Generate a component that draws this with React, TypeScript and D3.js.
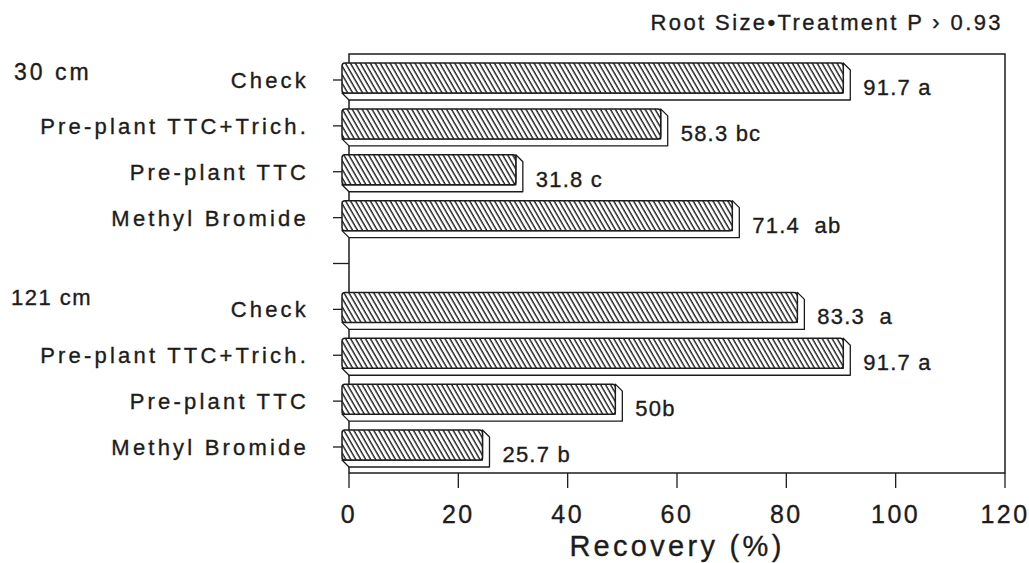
import React from 'react';
import * as d3 from 'd3';

// data
const treatments = ['Check', 'Pre-plant TTC+Trich.', 'Pre-plant TTC', 'Methyl Bromide'];
const groups = ['30 cm', '121 cm'];
const recovery30 = [91.7, 58.3, 31.8, 71.4];
const recovery121 = [83.3, 91.7, 50, 25.7];
const labels30 = ['91.7 a', '58.3 bc', '31.8 c', '71.4  ab'];
const labels121 = ['83.3  a', '91.7 a', '50b', '25.7 b'];
const xTicks = [0, 20, 40, 60, 80, 100, 120];

const W = 1029;
const H = 563;
const FONT = '"Liberation Sans", Arial, Helvetica, sans-serif';
const INK = '#1c1c1c';

// rows: 4 treatments, a blank spacer, 4 treatments
const rows = [
  ...treatments.map((t, i) => ({ key: `a${i}`, name: t, value: recovery30[i], label: labels30[i] })),
  { key: 'gap', name: '', value: null as number | null, label: '' },
  ...treatments.map((t, i) => ({ key: `b${i}`, name: t, value: recovery121[i], label: labels121[i] })),
];

const txt = { fontFamily: FONT, fill: INK, stroke: INK, strokeWidth: 0.35 };

const App = () => {
  const x = d3.scaleLinear().domain([0, 120]).range([349, 1005]);
  const y = d3.scalePoint<string>().domain(rows.map(r => r.key)).range([80, 447]);

  const top = 54;
  const bottom = 473;
  const barH = 30;
  const dx = 7;
  const dy = 7;

  return (
    <svg width={W} height={H} style={{ position: 'absolute', left: 0, top: 0, background: '#fff' }}>
      <defs>
        <pattern id="hatch" patternUnits="userSpaceOnUse" width={4.3} height={10} patternTransform="rotate(-30)">
          <rect width={4.3} height={10} fill="#fff" />
          <line x1={1} y1={0} x2={1} y2={10} stroke={INK} strokeWidth={1.4} />
        </pattern>
      </defs>

      {/* frame */}
      <rect x={x(0)} y={top} width={x(120) - x(0)} height={bottom - top} fill="none" stroke={INK} strokeWidth={1.5} />

      {/* left ticks */}
      {rows.map(r => (
        <line key={`t${r.key}`} x1={x(0) - 16} x2={x(0)} y1={y(r.key)} y2={y(r.key)} stroke={INK} strokeWidth={1.3} />
      ))}

      {/* bottom ticks */}
      {xTicks.map(t => (
        <g key={`xt${t}`}>
          <line x1={x(t)} x2={x(t)} y1={bottom} y2={bottom + 15} stroke={INK} strokeWidth={1.3} />
          <text x={x(t)} y={bottom + 50} textAnchor="middle" fontSize={25} letterSpacing={2.5} {...txt}>
            {t}
          </text>
        </g>
      ))}

      {/* bars */}
      {rows.filter(r => r.value !== null).map(r => {
        const x1 = x(r.value as number);
        const x0 = x(0);
        const fy = (y(r.key) as number) - 17;
        const fx0 = x0 - dx;
        const fx1 = x1 - dx;
        return (
          <g key={`b${r.key}`}>
            <polygon
              points={`${fx1},${fy} ${x1},${fy + dy} ${x1},${fy + barH + dy} ${x0},${fy + barH + dy} ${fx0},${fy + barH} ${fx1},${fy + barH}`}
              fill="#fff"
              stroke={INK}
              strokeWidth={1.3}
              strokeLinejoin="round"
            />
            <rect x={fx0} y={fy} width={fx1 - fx0} height={barH} rx={3} fill="url(#hatch)" stroke={INK} strokeWidth={1.5} />
            <text
              x={x1 + 13}
              y={(y(r.key) as number) + 15}
              fontSize={22}
              letterSpacing={1.2}
              {...txt}
              style={{ whiteSpace: 'pre' }}
            >
              {r.label}
            </text>
          </g>
        );
      })}

      {/* category labels */}
      {rows.filter(r => r.name).map(r => (
        <text
          key={`l${r.key}`}
          x={309}
          y={(y(r.key) as number) + 8}
          textAnchor="end"
          fontSize={22}
          letterSpacing={3.2}
          {...txt}
        >
          {r.name}
        </text>
      ))}

      {/* group labels */}
      <text x={14} y={(y('a0') as number) + 0} fontSize={23} letterSpacing={3} {...txt}>
        {groups[0]}
      </text>
      <text x={11} y={(y('b0') as number) - 4} fontSize={22} letterSpacing={1.5} {...txt}>
        {groups[1]}
      </text>

      {/* title and axis title */}
      <text x={1003} y={30} textAnchor="end" fontSize={22} letterSpacing={2.4} {...txt}>
        Root Size•Treatment P › 0.93
      </text>
      <text x={677} y={556} textAnchor="middle" fontSize={29} letterSpacing={3.3} {...txt}>
        Recovery (%)
      </text>
    </svg>
  );
};

export default App;
